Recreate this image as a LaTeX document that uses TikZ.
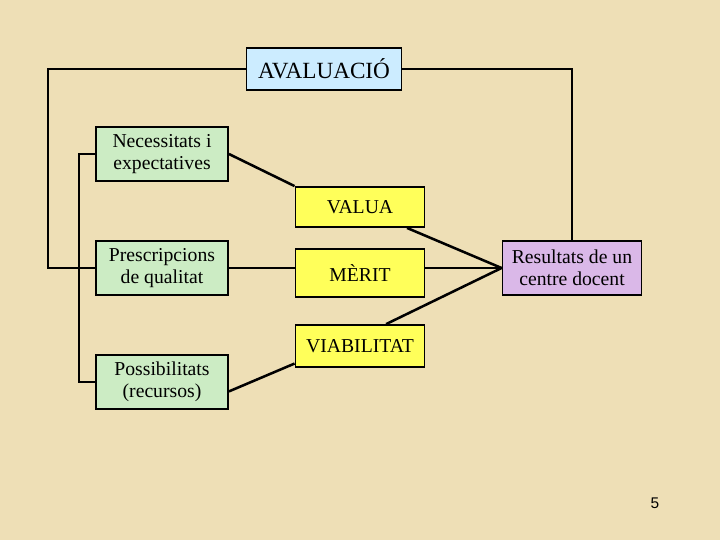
\documentclass[tikz,border=0pt]{standalone}
\usepackage{fontspec}
\setmainfont{Liberation Serif}
\newfontfamily\numfont{Liberation Sans}
\usepackage{tikz}
\definecolor{paper}{RGB}{238,223,182}
\definecolor{blau}{RGB}{204,236,255}
\definecolor{verd}{RGB}{204,236,196}
\definecolor{groc}{RGB}{255,255,90}
\definecolor{lila}{RGB}{218,184,232}

\begin{document}
\begin{tikzpicture}[x=0.025cm,y=-0.025cm,every path/.style={line width=1.8pt},bx/.style args = {#1/#2/#3}{rectangle, draw, line width=1.3pt, fill=#1, minimum width=#2cm, minimum height=#3cm, align=center, inner sep=2pt, font=\fontsize{14}{16}\selectfont}]
\fill[paper] (0,0) rectangle (720,540);
\useasboundingbox (0,0) rectangle (720,540);
\node (aval) [bx=blau/3.875/1.05, font=\fontsize{16.5}{18}\selectfont] at (324,69) {AVALUACIÓ};
\node (nec) [bx=verd/3.3/1.35] at (162,154) {Necessitats i\\expectatives};
\node (pres) [bx=verd/3.3/1.35] at (162,268) {Prescripcions\\de qualitat};
\node (pos) [bx=verd/3.3/1.35] at (162,382) {Possibilitats\\(recursos)};
\node (valua) [bx=groc/3.225/1.0] at (360,207) {VALUA};
\node (merit) [bx=groc/3.225/1.2] at (360,273) {MÈRIT};
\node (viab) [bx=groc/3.225/1.05] at (360,346) {VIABILITAT};
\node (res) [bx=lila/3.475/1.35] at (572,268) {Resultats de un\\centre docent};
\node (num) at (655,503) {\numfont\fontsize{11}{13}\selectfont 5};
\coordinate (lft) at (48,268);
\coordinate (inr) at (79,268);
%\coordinate (rgt) at (570,67);
\draw (aval.west) -| (lft) -- (pres.west);
\draw (aval.east) -| (res.north);
\draw (nec.west) -| (inr) |- (pos.west);
\draw (pres.east) -- (pres.east -| merit.west);
\draw (merit.east |- res.west) -- (res.west);
\foreach \from/\to in {nec.east/valua.north west, valua.-24/res.west, viab.40/res.west, pos.-8/viab.195}
\draw (\from) -- (\to);
\end{tikzpicture}
\end{document}
